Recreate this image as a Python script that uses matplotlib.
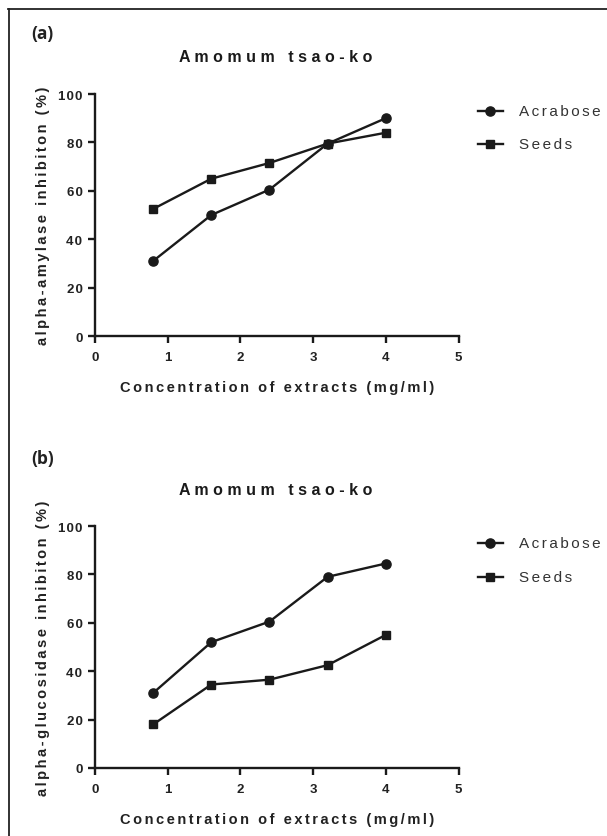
import matplotlib
matplotlib.use("Agg")
import matplotlib.pyplot as plt
from matplotlib.lines import Line2D

plt.rcParams['font.family'] = ['Liberation Sans', 'DejaVu Sans']

conc = [0.8, 1.6, 2.4, 3.2, 4.0]
amylase_acrabose = [31, 50, 60.5, 79.5, 90]
amylase_seeds = [52.5, 65, 71.5, 79.5, 84]
glucosidase_acrabose = [31, 52, 60.5, 79, 84.5]
glucosidase_seeds = [18, 34.5, 36.5, 42.5, 55]
title = "Amomum tsao-ko"
xlabel = "Concentration of extracts (mg/ml)"
ylabels = ["alpha-amylase inhibiton (%)", "alpha-glucosidase inhibiton (%)"]
panel_labels = ["(a)", "(b)"]
series_names = ["Acrabose", "Seeds"]
xticks = [0, 1, 2, 3, 4, 5]
yticks = [0, 20, 40, 60, 80, 100]

W, H = 607, 837
fig = plt.figure(figsize=(W / 100, H / 100), dpi=100)
renderer = fig.canvas.get_renderer()

HAIR, THIN, SIX, FOUR = "\u200a", "\u2009", "\u2006", "\u2005"
SEPS = ["", HAIR, SIX, THIN, FOUR, HAIR + HAIR, THIN + HAIR, SIX + HAIR, THIN + THIN,
        " ", FOUR + HAIR, " " + HAIR, THIN + THIN + HAIR]


def measure(s, **kw):
    t = fig.text(0, 0, s, **kw)
    w = t.get_window_extent(renderer).width
    t.remove()
    return w


def spaced_for(s, target, **kw):
    best, bestd = s, 1e9
    for sep in SEPS:
        cand = sep.join(list(s))
        d = abs(measure(cand, **kw) - target)
        if d < bestd:
            best, bestd = cand, d
    return best


def fit_text(x, y, s, target, rotation=0, **kw):
    txt = spaced_for(s, target, **kw)
    return fig.text(x, y, txt, rotation=rotation, **kw)


def fx(px):
    return px / W


def fy(py):
    return 1 - py / H


# frame (cropped: only top and left visible)
fig.add_artist(Line2D([fx(8.5), fx(8.5)], [0, fy(10)], transform=fig.transFigure,
                      color='#222222', lw=1.3))
fig.add_artist(Line2D([fx(8), 1], [fy(10), fy(10)], transform=fig.transFigure,
                      color='#222222', lw=1.3))

tick_kw = dict(fontsize=9.5, fontweight='bold')
tick_str = {v: spaced_for(str(v), {1: 7, 2: 15.5, 3: 24}[len(str(v))], **tick_kw)
            for v in yticks}

panels = [
    dict(ax_rect=(95, 95, 458.5, 337), data=(amylase_acrabose, amylase_seeds),
         title_y=57.5, label_y=34.5, xlabel_y=388, leg_y=(112, 145), ylab_w=262),
    dict(ax_rect=(95, 527, 458.5, 769), data=(glucosidase_acrabose, glucosidase_seeds),
         title_y=491, label_y=459, xlabel_y=820, leg_y=(544, 578), ylab_w=294),
]

LC = '#1a1a1a'
for i, p in enumerate(panels):
    l, t, r, b = p['ax_rect']
    ax = fig.add_axes([fx(l), fy(b), (r - l) / W, (b - t) / H])
    acr, sds = p['data']
    ax.plot(conc, acr, color=LC, lw=1.7, marker='o', ms=6.6, clip_on=False)
    ax.plot(conc, sds, color=LC, lw=1.7, marker='s', ms=6.2, clip_on=False)
    ax.set_xlim(0, 5)
    ax.set_ylim(0, 100)
    ax.set_xticks(xticks)
    ax.set_yticks(yticks)
    ax.set_xticklabels([tick_str.get(v, str(v)) for v in xticks], color='#222222', **tick_kw)
    ax.set_yticklabels([tick_str[v] for v in yticks], color='#222222', **tick_kw)
    for s in ['top', 'right']:
        ax.spines[s].set_visible(False)
    for s in ['left', 'bottom']:
        ax.spines[s].set_linewidth(1.7)
        ax.spines[s].set_color(LC)
    ax.tick_params(direction='out', length=5, width=1.7, color=LC)
    ax.tick_params(axis='x', pad=6)
    ax.tick_params(axis='y', pad=4)
    ax.patch.set_alpha(0)

    # y label
    fit_text(fx(43), fy((t + b) / 2), ylabels[i], p['ylab_w'], rotation=90,
             ha='center', va='center', fontsize=10.5, fontweight='bold', color='#222222')
    # x label
    fit_text(fx(277), fy(p['xlabel_y']), xlabel, 319,
             ha='center', va='center', fontsize=10.5, fontweight='bold', color='#222222')
    # title
    fit_text(fx(275.5), fy(p['title_y']), title, 193,
             ha='center', va='center', fontsize=11.5, fontweight='bold', color=LC)
    # panel label
    fig.text(fx(31), fy(p['label_y']), panel_labels[i], ha='left', va='center',
             fontsize=12.5, fontweight='bold', family=['Open Sans', 'DejaVu Sans'],
             color='#222222')

    # legend (manual handles)
    for name, mk, yy, tw in zip(series_names, ['o', 's'], p['leg_y'], [81, 53]):
        yf = fy(yy)
        fig.add_artist(Line2D([fx(478), fx(503)], [yf, yf], transform=fig.transFigure,
                              color=LC, lw=1.7))
        fig.add_artist(Line2D([fx(490.5)], [yf], transform=fig.transFigure,
                              color=LC, marker=mk, ms=6.6 if mk == 'o' else 6.2, lw=0))
        fit_text(fx(519), yf, name, tw, ha='left', va='center', fontsize=11,
                 color='#333333')

fig.savefig("out.png", dpi=100, facecolor='white')
